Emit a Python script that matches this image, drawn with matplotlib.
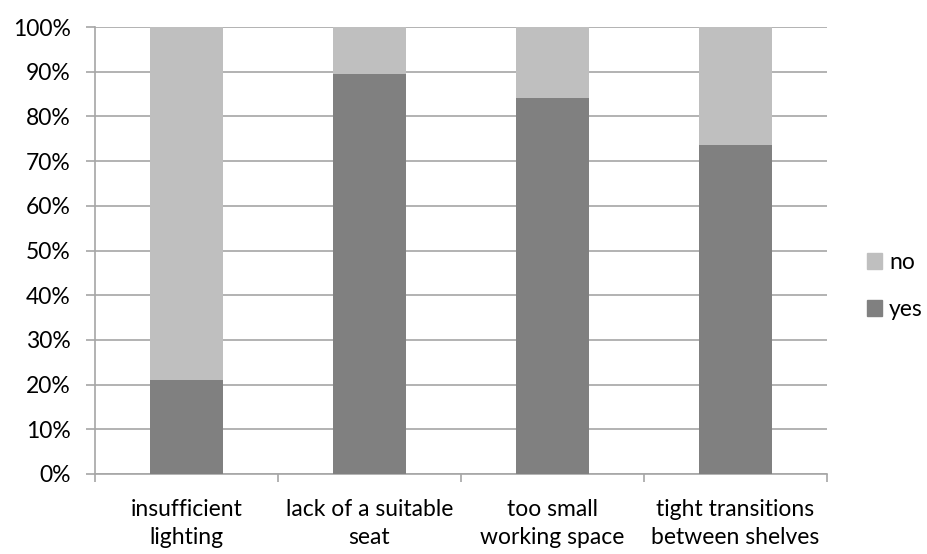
import matplotlib
matplotlib.use("Agg")
import matplotlib.pyplot as plt
from matplotlib.ticker import FuncFormatter, MultipleLocator
from matplotlib.patches import Patch

categories = ["insufficient\nlighting", "lack of a suitable\nseat", "too small\nworking space", "tight transitions\nbetween shelves"]
yes_vals = [21.05, 89.47, 84.21, 73.68]
no_vals = [78.95, 10.53, 15.79, 26.32]

plt.rcParams['font.family'] = ['Lato', 'DejaVu Sans']
FS = 16.5

fig = plt.figure(figsize=(9.28, 5.54), dpi=100)
W, H = 928, 554
ax = fig.add_axes([95 / W, (H - 474) / H, (827 - 95) / W, (474 - 27) / H])

x = list(range(len(categories)))
c_yes = "#808080"
c_no = "#bfbfbf"
ax.bar(x, yes_vals, width=0.4, color=c_yes, zorder=3)
ax.bar(x, no_vals, bottom=yes_vals, width=0.4, color=c_no, zorder=3)

ax.set_xlim(-0.5, len(categories) - 0.5)
ax.set_ylim(0, 100)
ax.yaxis.set_major_locator(MultipleLocator(10))
ax.yaxis.set_major_formatter(FuncFormatter(lambda v, p: f"{int(round(v))}%"))
ax.grid(axis='y', color="#a6a6a6", linewidth=1.2, zorder=0)
ax.set_axisbelow(True)

for s in ['top', 'right']:
    ax.spines[s].set_visible(False)
for s in ['left', 'bottom']:
    ax.spines[s].set_color("#a6a6a6")
    ax.spines[s].set_linewidth(1.2)

ax.set_xticks([i + 0.5 for i in range(-1, len(categories))])
ax.set_xticklabels([])
ax.tick_params(axis='x', length=6, color="#a6a6a6", width=1.2)
ax.tick_params(axis='y', length=6.5, color="#a6a6a6", width=1.2, labelsize=FS, pad=11)
for i, c in enumerate(categories):
    ax.text(i, -5.6, c, ha='center', va='top', fontsize=FS, linespacing=1.4,
            transform=ax.transData)

handles = [Patch(color=c_no, label="no"), Patch(color=c_yes, label="yes")]
fig.legend(handles=handles, loc='center left', bbox_to_anchor=(856 / W, 1 - 286 / H),
           frameon=False, fontsize=FS, handlelength=0.65, handleheight=0.65,
           handletextpad=0.3, labelspacing=1.14, borderaxespad=0, borderpad=0.5)

fig.savefig("out.png", dpi=100)
